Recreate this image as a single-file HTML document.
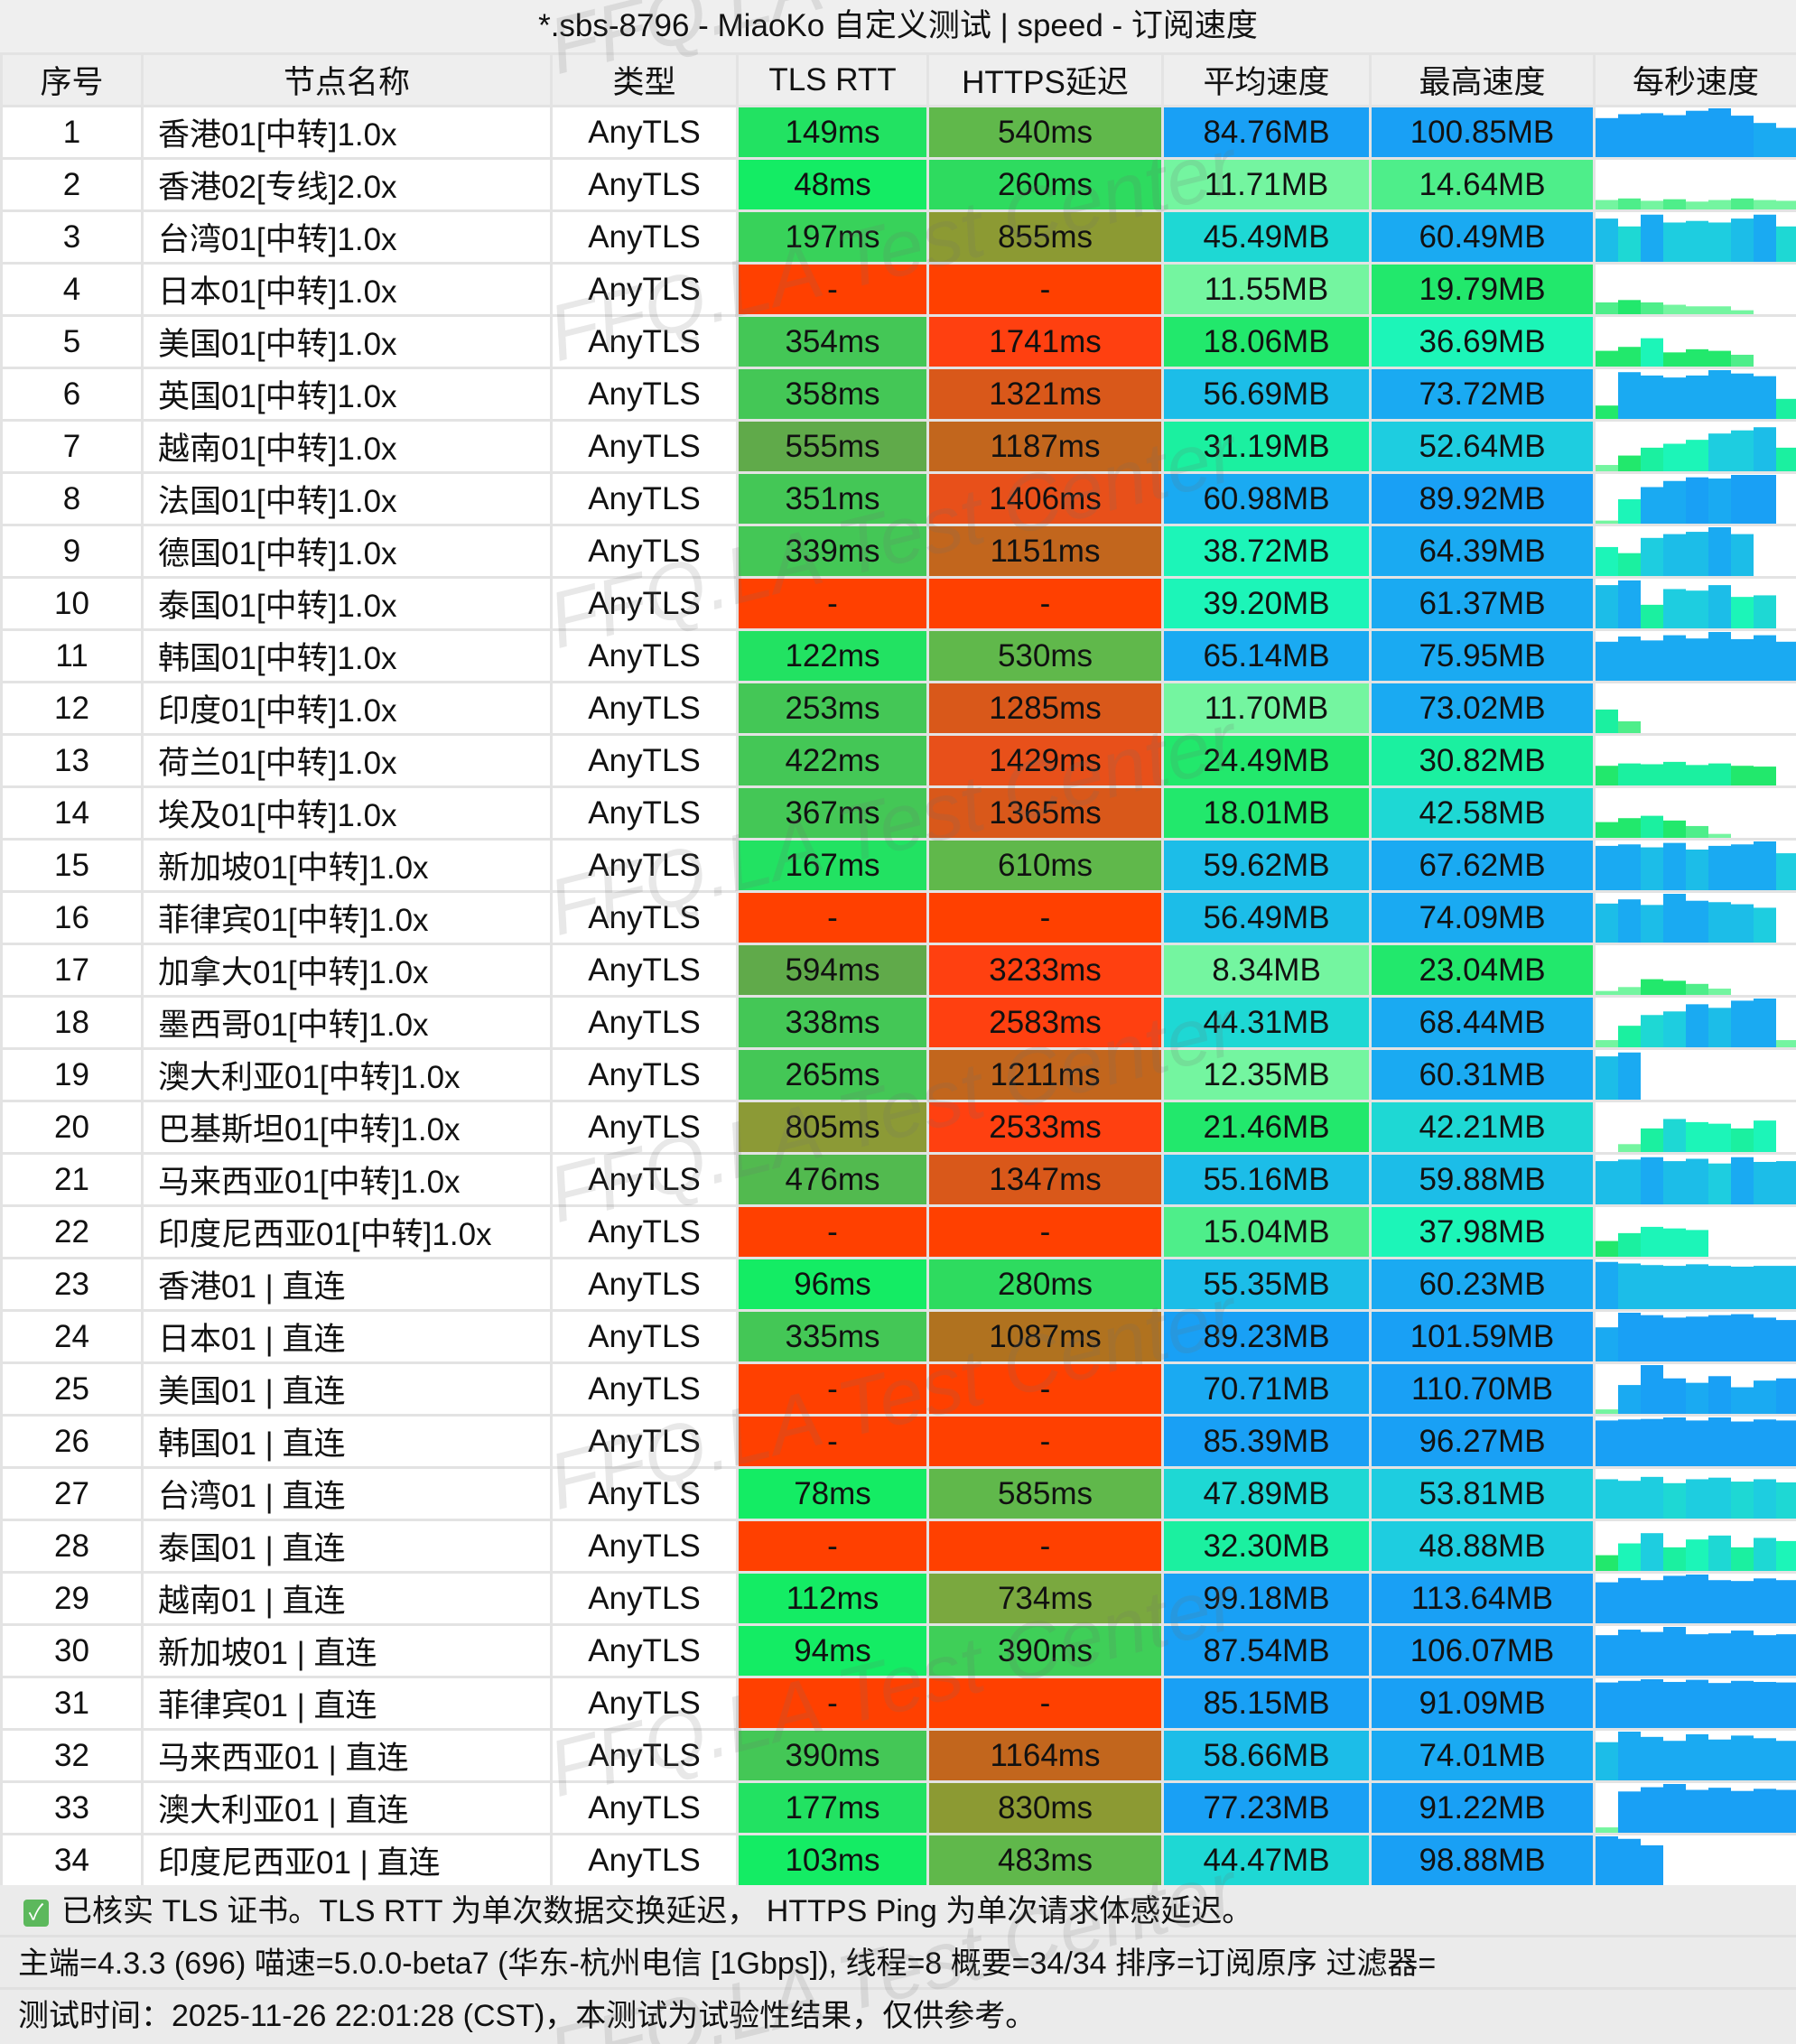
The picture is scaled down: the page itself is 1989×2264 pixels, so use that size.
<!DOCTYPE html>
<html><head><meta charset="utf-8">
<style>
*{margin:0;padding:0;box-sizing:border-box}
body{width:1989px;height:2264px;background:#ebebeb;font-family:"Liberation Sans","Noto Sans CJK SC",sans-serif;color:#111;position:relative;overflow:hidden}
.title{position:absolute;left:0;top:0;width:1989px;height:58px;background:#efefef;text-align:center;font-size:35px;line-height:58px}
table{position:absolute;left:0;top:58px;border-collapse:collapse;table-layout:fixed;width:1989px}
td,th{height:58px;border:3px solid #e3e3e3;font-size:35px;font-weight:normal;text-align:center;white-space:nowrap;overflow:hidden;padding:0}
th{background:#eeeeee}
tr.r td{background:#fff}
td.n{text-align:left;padding-left:16px}
td.s{padding:0;vertical-align:bottom;position:relative}
td.s svg{display:block}
.foot{position:absolute;left:0;width:1989px;height:58px;background:#ebebeb;font-size:34px;line-height:58px;padding-left:20px;border-bottom:3px solid #e0e0e0;white-space:nowrap}
.chk{display:inline-block;width:28px;height:30px;background:#5cb85c;border-radius:4px;color:#fff;font-size:24px;line-height:30px;text-align:center;vertical-align:middle;margin-right:14px;margin-left:6px}
.wm{position:absolute;left:0;top:0;pointer-events:none}
</style></head><body>
<div class="title">*.sbs-8796 - MiaoKo 自定义测试 | speed - 订阅速度</div>
<table>
<colgroup><col style="width:156px"><col style="width:453px"><col style="width:206px"><col style="width:211px"><col style="width:260px"><col style="width:230px"><col style="width:248px"><col style="width:225px"></colgroup>
<tr><th>序号</th><th>节点名称</th><th>类型</th><th>TLS RTT</th><th>HTTPS延迟</th><th>平均速度</th><th>最高速度</th><th>每秒速度</th></tr>
</table>
<script>
var rows=[
["香港01[中转]1.0x","149ms","540ms","84.76MB","100.85MB",[80,88,90,86,95,100,85,70,60]],
["香港02[专线]2.0x","48ms","260ms","11.71MB","14.64MB",[12,14,11,13,10,12,14,12,11]],
["台湾01[中转]1.0x","197ms","855ms","45.49MB","60.49MB",[55,45,60,50,52,50,55,60,45]],
["日本01[中转]1.0x","-","-","11.55MB","19.79MB",[15,18,15,12,10,10,5,0,0]],
["美国01[中转]1.0x","354ms","1741ms","18.06MB","36.69MB",[20,25,36,18,22,20,15,0,0]],
["英国01[中转]1.0x","358ms","1321ms","56.69MB","73.72MB",[20,70,65,62,65,73,68,64,30]],
["越南01[中转]1.0x","555ms","1187ms","31.19MB","52.64MB",[8,20,30,35,40,48,52,56,30]],
["法国01[中转]1.0x","351ms","1406ms","60.98MB","89.92MB",[5,40,60,70,76,74,80,80,0]],
["德国01[中转]1.0x","339ms","1151ms","38.72MB","64.39MB",[38,30,50,55,58,64,55,0,0]],
["泰国01[中转]1.0x","-","-","39.20MB","61.37MB",[55,61,30,50,48,55,40,42,0]],
["韩国01[中转]1.0x","122ms","530ms","65.14MB","75.95MB",[60,68,62,70,65,75,64,70,60]],
["印度01[中转]1.0x","253ms","1285ms","11.70MB","73.02MB",[30,15,0,0,0,0,0,0,0]],
["荷兰01[中转]1.0x","422ms","1429ms","24.49MB","30.82MB",[25,28,27,30,26,28,25,24,0]],
["埃及01[中转]1.0x","367ms","1365ms","18.01MB","42.58MB",[20,25,28,22,15,5,0,0,0]],
["新加坡01[中转]1.0x","167ms","610ms","59.62MB","67.62MB",[60,62,58,64,55,60,62,66,50]],
["菲律宾01[中转]1.0x","-","-","56.49MB","74.09MB",[56,62,54,70,60,58,55,50,0]],
["加拿大01[中转]1.0x","594ms","3233ms","8.34MB","23.04MB",[5,10,20,18,14,8,0,0,0]],
["墨西哥01[中转]1.0x","338ms","2583ms","44.31MB","68.44MB",[10,30,45,50,60,55,65,68,10]],
["澳大利亚01[中转]1.0x","265ms","1211ms","12.35MB","60.31MB",[55,60,0,0,0,0,0,0,0]],
["巴基斯坦01[中转]1.0x","805ms","2533ms","21.46MB","42.21MB",[0,10,30,42,38,36,30,40,0]],
["马来西亚01[中转]1.0x","476ms","1347ms","55.16MB","59.88MB",[55,57,60,55,58,52,60,54,55]],
["印度尼西亚01[中转]1.0x","-","-","15.04MB","37.98MB",[20,30,38,36,34,0,0,0,0]],
["香港01 | 直连","96ms","280ms","55.35MB","60.23MB",[60,58,56,55,57,55,54,55,55]],
["日本01 | 直连","335ms","1087ms","89.23MB","101.59MB",[70,100,95,90,92,95,97,90,85]],
["美国01 | 直连","-","-","70.71MB","110.70MB",[10,65,110,80,70,85,60,75,80]],
["韩国01 | 直连","-","-","85.39MB","96.27MB",[90,92,93,96,90,96,88,92,90]],
["台湾01 | 直连","78ms","585ms","47.89MB","53.81MB",[50,48,53,45,50,52,47,50,46]],
["泰国01 | 直连","-","-","32.30MB","48.88MB",[20,35,48,30,40,45,30,42,38]],
["越南01 | 直连","112ms","734ms","99.18MB","113.64MB",[95,105,100,110,113,100,98,104,100]],
["新加坡01 | 直连","94ms","390ms","87.54MB","106.07MB",[88,100,95,106,90,92,98,88,90]],
["菲律宾01 | 直连","-","-","85.15MB","91.09MB",[85,88,91,86,90,84,88,86,85]],
["马来西亚01 | 直连","390ms","1164ms","58.66MB","74.01MB",[58,74,66,60,70,62,68,64,60]],
["澳大利亚01 | 直连","177ms","830ms","77.23MB","91.22MB",[10,77,85,91,80,84,78,82,80]],
["印度尼西亚01 | 直连","103ms","483ms","44.47MB","98.88MB",[98,93,80,0,0,0,0,0,0]]
];
function tc(v){if(v=="-")return"#ff4000";v=parseInt(v);if(v<120)return"#14ec64";if(v<180)return"#22e262";if(v<230)return"#38d25a";if(v<450)return"#44c756";if(v<520)return"#52ba4f";if(v<650)return"#60aa4a";return"#8c9a36";}
function hc(v){if(v=="-")return"#ff4000";v=parseInt(v);if(v<300)return"#2edb5f";if(v<450)return"#3fcf58";if(v<650)return"#60b84b";if(v<780)return"#7aa83f";if(v<900)return"#8c9a33";if(v<1120)return"#b0721f";if(v<1250)return"#c2661d";if(v<1380)return"#d9581a";if(v<1500)return"#e8501a";return"#ff4010";}
function sc(v){v=parseFloat(v);if(v<=0)return"#fff";if(v<13)return"#74f5a0";if(v<17)return"#4eee8a";if(v<26)return"#22e86c";if(v<34)return"#1bf0a0";if(v<42)return"#1cf5b8";if(v<48)return"#1ed8d4";if(v<54)return"#1ecde0";if(v<60)return"#1cbde8";if(v<76)return"#1aaaf2";return"#19a0f5";}
var h='<colgroup><col style="width:156px"><col style="width:453px"><col style="width:206px"><col style="width:211px"><col style="width:260px"><col style="width:230px"><col style="width:248px"><col style="width:225px"></colgroup>';
rows.forEach(function(r,i){
 var mx=Math.max.apply(null,r[5]);var sf=Math.max(mx,62);
 var svg='<svg width="225" height="54" viewBox="0 0 225 54">';
 r[5].forEach(function(b,j){if(b>0){var bh=Math.min(54,b/sf*54);svg+='<rect x="'+(j*25)+'" y="'+(54-bh)+'" width="25" height="'+bh+'" fill="'+sc(b)+'"/>';}});
 svg+='</svg>';
 h+='<tr class="r"><td>'+(i+1)+'</td><td class="n">'+r[0]+'</td><td>AnyTLS</td><td style="background:'+tc(r[1])+'">'+r[1]+'</td><td style="background:'+hc(r[2])+'">'+r[2]+'</td><td style="background:'+sc(r[3])+'">'+r[3]+'</td><td style="background:'+sc(r[4])+'">'+r[4]+'</td><td class="s">'+svg+'</td></tr>';
});
document.write('<table style="top:116px">'+h+'</table>');
</script>
<div class="foot" style="top:2088px"><span class="chk">✓</span>已核实 TLS 证书。TLS RTT 为单次数据交换延迟， HTTPS Ping 为单次请求体感延迟。</div>
<div class="foot" style="top:2146px">主端=4.3.3 (696) 喵速=5.0.0-beta7 (华东-杭州电信 [1Gbps]), 线程=8 概要=34/34 排序=订阅原序 过滤器=</div>
<div class="foot" style="top:2204px;border-bottom:none">测试时间：2025-11-26 22:01:28 (CST)，本测试为试验性结果，仅供参考。</div>
<svg class="wm" width="1989" height="2264">
<g fill="rgba(110,110,110,0.16)" font-family="Liberation Sans,sans-serif" font-size="88" font-style="italic" text-anchor="middle">
<text x="996" y="-12" transform="rotate(-14 996 -12)">FFQ.LA Test Center</text>
<text x="996" y="306" transform="rotate(-14 996 306)">FFQ.LA Test Center</text>
<text x="996" y="624" transform="rotate(-14 996 624)">FFQ.LA Test Center</text>
<text x="996" y="942" transform="rotate(-14 996 942)">FFQ.LA Test Center</text>
<text x="996" y="1260" transform="rotate(-14 996 1260)">FFQ.LA Test Center</text>
<text x="996" y="1578" transform="rotate(-14 996 1578)">FFQ.LA Test Center</text>
<text x="996" y="1896" transform="rotate(-14 996 1896)">FFQ.LA Test Center</text>
<text x="996" y="2214" transform="rotate(-14 996 2214)">FFQ.LA Test Center</text>
</g></svg>
</body></html>
